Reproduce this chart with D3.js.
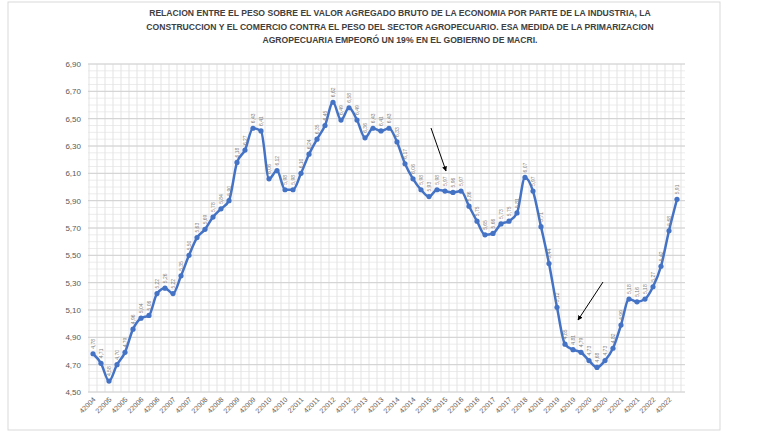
<!DOCTYPE html>
<html><head><meta charset="utf-8">
<script src="https://cdn.jsdelivr.net/npm/d3@7"></script>
<style>body{margin:0;background:#fff;font-family:"Liberation Sans",Arial,sans-serif}</style>
</head><body><svg id="c" width="774" height="434"></svg>
<script>
// quarterly values from 4Q2004 to 1Q2023
const startYear = 2004, startQ = 4;
const values = [4.78,4.71,4.58,4.70,4.79,4.96,5.04,5.06,5.22,5.26,5.22,5.35,5.50,5.63,5.69,5.78,5.84,5.90,
  6.18,6.27,6.43,6.41,6.06,6.12,5.98,5.98,6.10,6.24,6.35,6.45,6.62,6.49,6.58,6.49,6.36,6.43,6.41,6.43,6.33,
  6.17,6.06,5.98,5.93,5.98,5.97,5.96,5.97,5.86,5.75,5.65,5.66,5.73,5.75,5.81,6.07,5.97,5.71,5.44,5.12,
  4.85,4.81,4.79,4.73,4.68,4.73,4.82,4.99,5.18,5.16,5.18,5.27,5.42,5.68,5.91];
const yTicks = [4.5,4.7,4.9,5.1,5.3,5.5,5.7,5.9,6.1,6.3,6.5,6.7,6.9];
const titleLines = ["RELACION ENTRE EL PESO SOBRE EL VALOR AGREGADO BRUTO DE LA ECONOMIA POR PARTE DE LA INDUSTRIA, LA",
  "CONSTRUCCION Y EL COMERCIO CONTRA EL PESO DEL SECTOR AGROPECUARIO. ESA MEDIDA DE LA PRIMARIZACION",
  "AGROPECUARIA EMPEORÓ UN 19% EN EL GOBIERNO DE MACRI."];
const labels = values.map((v,i)=>{const t=startQ-1+i;return `${t%4+1}${startYear+Math.floor(t/4)}`;});

const svg = d3.select("#c");
svg.append("rect").attr("x",8).attr("y",2).attr("width",712).attr("height",428)
  .attr("fill","#fff").attr("stroke","#d9d9d9");
svg.selectAll(".t").data(titleLines).join("text")
  .attr("x",400).attr("y",(d,i)=>16+i*13.5).attr("text-anchor","middle")
  .attr("font-size",8.6).attr("font-weight","bold").attr("fill","#404040").text(d=>d);

const m = {left:93,right:677,top:64,bottom:392};
const x = d3.scaleLinear().domain([0,values.length-1]).range([m.left,m.right]);
const y = d3.scaleLinear().domain([4.5,6.9]).range([m.bottom,m.top]);
const g = svg.append("g");
// minor grid
g.selectAll(".hm").data(d3.range(4.5,6.901,0.05)).join("line")
  .attr("x1",m.left-5).attr("x2",m.right+8).attr("y1",d=>y(d)).attr("y2",d=>y(d))
  .attr("stroke","#ececec");
g.selectAll(".vg").data(d3.range(values.length+1)).join("line")
  .attr("x1",d=>x(d)-4).attr("x2",d=>x(d)-4).attr("y1",m.top).attr("y2",m.bottom)
  .attr("stroke","#e3e3e3");
g.selectAll(".hg").data(yTicks).join("line")
  .attr("x1",m.left-5).attr("x2",m.right+8).attr("y1",d=>y(d)).attr("y2",d=>y(d))
  .attr("stroke","#d0d0d0");
g.selectAll(".yl").data(yTicks).join("text")
  .attr("x",m.left-12).attr("y",d=>y(d)+3).attr("text-anchor","end")
  .attr("font-size",8).attr("fill","#595959").text(d=>d3.format(".2f")(d).replace(".",","));
g.selectAll(".xl").data(labels.filter((d,i)=>i%2===0&&i<values.length-1)).join("text")
  .attr("transform",(d,i)=>`translate(${x(i*2)+3},${m.bottom+8}) rotate(-45)`)
  .attr("text-anchor","end").attr("font-size",7).attr("fill","#595959").text(d=>d);

const line = d3.line().x((d,i)=>x(i)).y(d=>y(d)).curve(d3.curveMonotoneX);
g.append("path").datum(values).attr("d",line).attr("fill","none")
  .attr("stroke","#4472c4").attr("stroke-width",2.5);
g.selectAll(".pt").data(values).join("circle")
  .attr("cx",(d,i)=>x(i)).attr("cy",d=>y(d)).attr("r",2.6).attr("fill","#4472c4");
g.selectAll(".vl").data(values).join("text")
  .attr("transform",(d,i)=>`translate(${x(i)+2},${y(d)-5}) rotate(-90)`)
  .attr("font-size",5).attr("fill","#7f7f7f").text(d=>d3.format(".2f")(d).replace(".",","));

// arrows
const defs = svg.append("defs");
defs.append("marker").attr("id","ah").attr("viewBox","0 0 10 10").attr("refX",9).attr("refY",5)
  .attr("markerWidth",5).attr("markerHeight",5).attr("orient","auto")
  .append("path").attr("d","M0,0L10,5L0,10z").attr("fill","#000");
[[431,128,446,171],[603,282,578,320]].forEach(a=>{
  svg.append("line").attr("x1",a[0]).attr("y1",a[1]).attr("x2",a[2]).attr("y2",a[3])
    .attr("stroke","#000").attr("stroke-width",1).attr("marker-end","url(#ah)");
});
</script></body></html>
